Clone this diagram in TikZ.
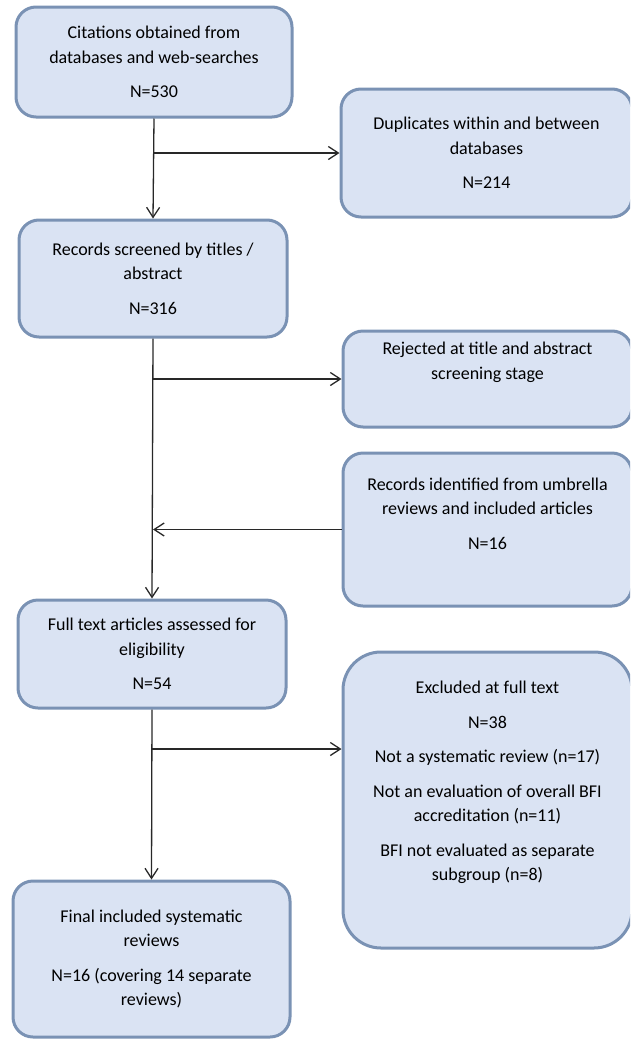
\documentclass[tikz,border=0pt]{standalone}
\usepackage{fontspec}
\setmainfont{Carlito}
\usetikzlibrary{arrows.meta}
\definecolor{boxline}{RGB}{122,146,180}
\definecolor{boxfill}{RGB}{218,227,243}
\definecolor{arrowline}{RGB}{40,40,40}

\begin{document}
\begin{tikzpicture}[x=1pt,y=-1pt,>={Straight Barb[length=10pt,width=13pt]}]
				\tikzstyle{flow} = [line width=1.3pt, draw=arrowline]
				\tikzstyle{stage} = [draw=boxline, fill=boxfill, line width=3pt, rounded corners=20pt, align=center, font=\fontsize{18}{24.5}\selectfont, inner sep=0pt]
				\tikzstyle{reason} = [stage, rounded corners=38pt]
				
				\path[use as bounding box, clip] (0,0) rectangle (630,1039);
				
				\node[stage, minimum width=276pt, minimum height=110pt] (Citations) at (154,62) {Citations obtained from\\ databases and web-searches\\[10pt] N=530};
				\node[stage, minimum width=291pt, minimum height=128pt] (Duplicates) at (486.5,153) {Duplicates within and between\\ databases\\[10pt] N=214};
				\node[stage, minimum width=268pt, minimum height=117pt] (Screened) at (153,278.5) {Records screened by titles /\\ abstract\\[10pt] N=316};
				\node[stage, minimum width=289pt, minimum height=96pt] (Rejected) at (487.5,379) {Rejected at title and abstract\\ screening stage\\[12pt]};
				\node[stage, minimum width=289pt, minimum height=153pt] (Umbrella) at (487.5,529.5) {Records identified from umbrella\\ reviews and included articles\\[10pt] N=16\\[8pt]};
				\node[stage, minimum width=268pt, minimum height=108pt] (FullText) at (152,654) {Full text articles assessed for\\ eligibility\\[10pt] N=54};
				\node[reason, minimum width=289pt, minimum height=296pt] (Excluded) at (487.5,800) {Excluded at full text\\[10pt] N=38\\[10pt] Not a systematic review (n=17)\\[10pt] Not an evaluation of overall BFI\\ accreditation (n=11)\\[10pt] BFI not evaluated as separate\\ subgroup (n=8)\\[14pt]};
				\node[stage, minimum width=277pt, minimum height=156pt] (Final) at (151.5,959) {Final included systematic\\ reviews\\[10pt] N=16 (covering 14 separate\\ reviews)};
				
				\coordinate (SplitOne) at (154,153);
				\coordinate (SplitTwo) at (153,379);
				\coordinate (SplitThree) at (152,749);
				
				\draw[->, flow] (Citations.south) -- (Screened.north);
				\draw[->, flow] (SplitOne) -- (Duplicates.west);
				\draw[->, flow] (Screened.south) -- (FullText.north);
				\draw[->, flow] (SplitTwo) -- (Rejected.west);
				\draw[->, flow] (Umbrella.west) -- (Umbrella.west -| Screened.south);
				\draw[->, flow] (FullText.south) -- (Final.north);
				\draw[->, flow] (SplitThree) -- (SplitThree -| Excluded.west);
				
\end{tikzpicture}
\end{document}
